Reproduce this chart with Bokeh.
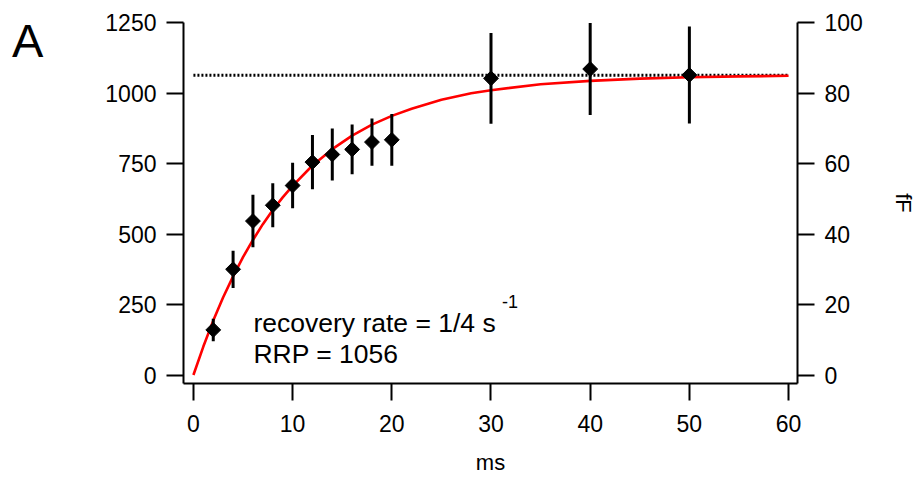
from bokeh.plotting import figure
from bokeh.models import Range1d, LinearAxis, FixedTicker, ColumnDataSource, Div
from bokeh.layouts import row
from bokeh.core.properties import value
from bokeh.embed import file_html
from bokeh.resources import INLINE
import numpy as np

# data
interval_ms = [2, 4, 6, 8, 10, 12, 14, 16, 18, 20, 30, 40, 50]
capacitance = [160, 375, 546, 602, 672, 755, 782, 800, 826, 834, 1052, 1085, 1064]
cap_err = [40, 66, 93, 78, 81, 96, 92, 88, 84, 92, 161, 163, 172]

fit_x = [0, 1, 2, 3, 4, 5, 6, 7, 8, 9, 10, 12, 14, 16, 18, 20, 22, 25, 28, 30, 35, 40, 45, 50, 55, 60]
fit_y = [0, 101, 193, 276, 350, 418, 479, 535, 585, 630, 671, 743, 801, 849, 888, 919,
         944, 976, 999, 1010, 1031, 1043, 1051, 1056, 1059, 1061]

plateau_x = [0, 60]
plateau_y = [1063, 1063]

left_ticks = [0, 250, 500, 750, 1000, 1250]
right_ticks = [0, 20, 40, 60, 80, 100]
bottom_ticks = [0, 10, 20, 30, 40, 50, 60]

FONT = "Liberation Sans"
PANEL_W = 60

p = figure(width=916 - PANEL_W, height=476, output_backend="svg", toolbar_location=None,
           x_range=Range1d(-1.0, 60.9), y_range=Range1d(-30, 1250),
           min_border_left=183 - PANEL_W, min_border_right=119, min_border_top=22,
           min_border_bottom=93, margin=(0, 0, 0, 0))
p.frame_width = 614
p.frame_height = 361
p.outline_line_color = None
p.grid.visible = False
p.background_fill_color = "white"
p.border_fill_color = "white"

p.extra_y_ranges = {"fF": Range1d(-2.4, 100)}
raxis = LinearAxis(y_range_name="fF", axis_label="fF")
p.add_layout(raxis, "right")

for ax in [p.xaxis[0], p.yaxis[0], raxis]:
    ax.axis_line_width = 2
    ax.major_tick_line_width = 2
    ax.major_tick_out = 17
    ax.major_tick_in = 0
    ax.minor_tick_out = 0
    ax.minor_tick_in = 0
    ax.major_label_text_font = FONT
    ax.major_label_text_font_size = "23px"
    ax.major_label_text_color = "black"
    ax.axis_label_text_font = FONT
    ax.axis_label_text_font_size = "22px"
    ax.axis_label_text_font_style = "normal"
    ax.axis_label_text_color = "black"
    ax.axis_line_color = "black"
    ax.major_tick_line_color = "black"

p.xaxis[0].ticker = FixedTicker(ticks=bottom_ticks)
p.yaxis[0].ticker = FixedTicker(ticks=left_ticks)
raxis.ticker = FixedTicker(ticks=right_ticks)
p.xaxis[0].axis_label = "ms"
p.xaxis[0].major_label_standoff = 14
p.xaxis[0].axis_label_standoff = 15
p.yaxis[0].major_label_standoff = 10
raxis.major_label_standoff = 10
raxis.axis_label_standoff = 25

# plateau dotted line
p.line(plateau_x, plateau_y, line_color="black", line_width=2.8, line_dash="2 2")
# fit curve
p.line(fit_x, fit_y, line_color="red", line_width=2.6)

# error bars
y = np.array(capacitance, dtype=float)
e = np.array(cap_err, dtype=float)
src = ColumnDataSource(dict(x=interval_ms, y=capacitance, lo=list(y - e), hi=list(y + e)))
p.segment(x0="x", y0="lo", x1="x", y1="hi", source=src, line_color="black", line_width=3)
p.scatter(x="x", y="y", source=src, marker="square", angle=np.pi / 4, size=10.5,
          fill_color="black", line_color="black")

# annotation text
p.text(x=[6.05], y=[183], text=["recovery rate = 1/4 s"], text_font=value(FONT),
       text_font_size="26.5px", text_baseline="alphabetic", text_align="left", text_color="black")
p.text(x=[31.1], y=[262], text=["-1"], text_font=value(FONT),
       text_font_size="18px", text_baseline="alphabetic", text_align="left", text_color="black")
p.text(x=[6.05], y=[75], text=["RRP = 1056"], text_font=value(FONT),
       text_font_size="26.5px", text_baseline="alphabetic", text_align="left", text_color="black")

# panel letter
letter = Div(text='<div style="font-family:\'Liberation Sans\';font-size:47px;line-height:47px;'
                  'padding-left:12px;padding-top:17px;color:black;">A</div>',
             width=PANEL_W, height=476, margin=(0, 0, 0, 0))

layout = row(letter, p, spacing=0, margin=(0, 0, 0, 0))

open("out.html", "w").write(file_html(layout, INLINE))
